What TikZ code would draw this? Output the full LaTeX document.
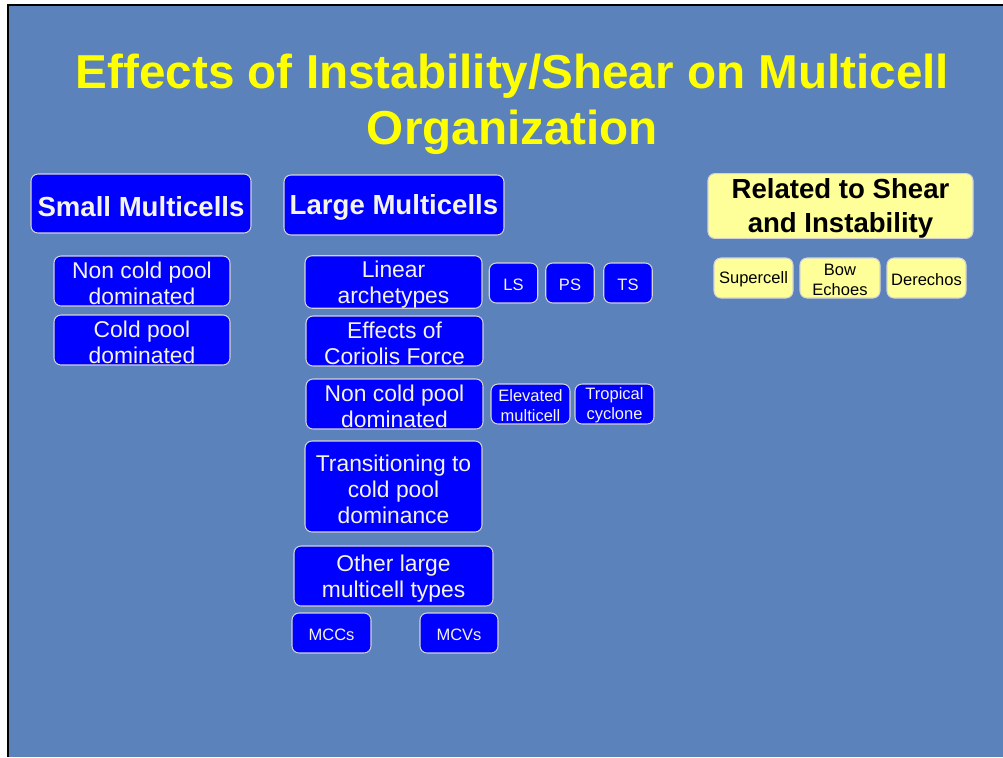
\documentclass[tikz,border=0pt]{standalone}
\usepackage{fontspec}
\setmainfont{Liberation Sans}
\usepackage{xcolor}
\definecolor{slide-bg}{HTML}{5B82BA}
\definecolor{box-blue}{HTML}{0000FF}
\definecolor{box-edge}{HTML}{D4D4D4}
\definecolor{box-text}{HTML}{F4F4EC}
\definecolor{note-yellow}{HTML}{FFFF99}
\definecolor{title-yellow}{HTML}{FFFF00}

\begin{document}
\begin{tikzpicture}[x=0.2mm, y=-0.2mm,
      every node/.style={inner sep=0pt, align=center},
      bluebox/.style={draw=box-edge, line width=0.6pt, fill=box-blue, text=box-text,
            rounded corners=4pt},
      notebox/.style={draw=box-edge, line width=0.6pt, fill=note-yellow, text=black,
            rounded corners=4pt},
      % \topgap pushes the first line down a little, as on the slide
      bigtext/.style={font={\fontsize{13}{14.7}\selectfont\def\topgap{\rule{0pt}{0.96em}}}},
      smalltext/.style={font={\fontsize{9.4}{11.3}\selectfont\def\topgap{\rule{0pt}{0.9em}}}},
      headtext/.style={font={\bfseries\fontsize{15.7}{19.2}\selectfont\def\topgap{\rule{0pt}{0.92em}}}}]
    \useasboundingbox (0,0) rectangle (1003,757);
    \fill[white] (0,0) rectangle (1003,757);
    \fill[slide-bg] (8,5) rectangle (1003,757);
    \draw[black, line width=1.2pt] (8,757) -- (8,5) -- (1003,5);

    % title
    \node[text=title-yellow, font=\bfseries\fontsize{27.1}{31.7}\selectfont]
          (title) at (512.5,104) {Effects of Instability/Shear on Multicell\\Organization};

    % column headers
    \node[bluebox, headtext, minimum width=4.4cm, minimum height=1.18cm]
          (small) at (141,203.5) {\topgap Small Multicells};
    \node[bluebox, headtext, minimum width=4.4cm, minimum height=1.2cm]
          (large) at (394,205) {\topgap Large Multicells};
    \node[notebox, headtext, minimum width=5.3cm, minimum height=1.2cm]
          (related) at (840.5,206) {\topgap Related to Shear\\and Instability};

    % small multicells
    \node[bluebox, bigtext, minimum width=3.52cm, minimum height=1.0cm]
          (smallnon) at (142,281) {\topgap Non cold pool\\dominated};
    \node[bluebox, bigtext, minimum width=3.52cm, minimum height=1.0cm]
          (smallcold) at (142,340) {\topgap Cold pool\\dominated};

    % large multicells
    \node[bluebox, bigtext, minimum width=3.54cm, minimum height=1.0cm]
          (linear) at (393.5,282) {\topgap Linear\\archetypes};
    \foreach \name/\x in {LS/513.5, PS/570, TS/628} {
      \node[bluebox, smalltext, minimum width=0.97cm, minimum height=0.8cm]
            (\name) at (\x,283) {\topgap\name};
    }
    \node[bluebox, bigtext, minimum width=3.54cm, minimum height=1.0cm]
          (coriolis) at (394.5,341) {\topgap Effects of\\Coriolis Force};
    \node[bluebox, bigtext, minimum width=3.54cm, minimum height=1.0cm]
          (largenon) at (394.5,404) {\topgap Non cold pool\\dominated};
    \node[bluebox, smalltext, minimum width=1.58cm, minimum height=0.8cm]
          (elevated) at (530.5,404) {\topgap Elevated\\multicell};
    \node[bluebox, smalltext, minimum width=1.58cm, minimum height=0.8cm]
          (tropical) at (614.5,404) {\topgap Tropical\\cyclone};
    \node[bluebox, bigtext, minimum width=3.54cm, minimum height=1.82cm]
          (transition) at (393.5,486.5) {\topgap Transitioning to\\cold pool\\dominance};
    \node[bluebox, bigtext, minimum width=3.98cm, minimum height=1.2cm]
          (other) at (393.5,576) {\topgap Other large\\multicell types};
    \node[bluebox, smalltext, minimum width=1.58cm, minimum height=0.8cm]
          (MCCs) at (331.5,633) {\topgap MCCs};
    \node[bluebox, smalltext, minimum width=1.56cm, minimum height=0.8cm]
          (MCVs) at (459,633) {\topgap MCVs};

    % shear and instability
    \node[notebox, smalltext, minimum width=1.58cm, minimum height=0.8cm]
          (supercell) at (753.5,278) {\topgap Supercell};
    \node[notebox, smalltext, minimum width=1.6cm, minimum height=0.8cm]
          (bow) at (840,278) {\topgap Bow\\Echoes};
    \node[notebox, smalltext, minimum width=1.58cm, minimum height=0.8cm]
          (derechos) at (926.5,278) {\topgap Derechos};
  \end{tikzpicture}
\end{document}
